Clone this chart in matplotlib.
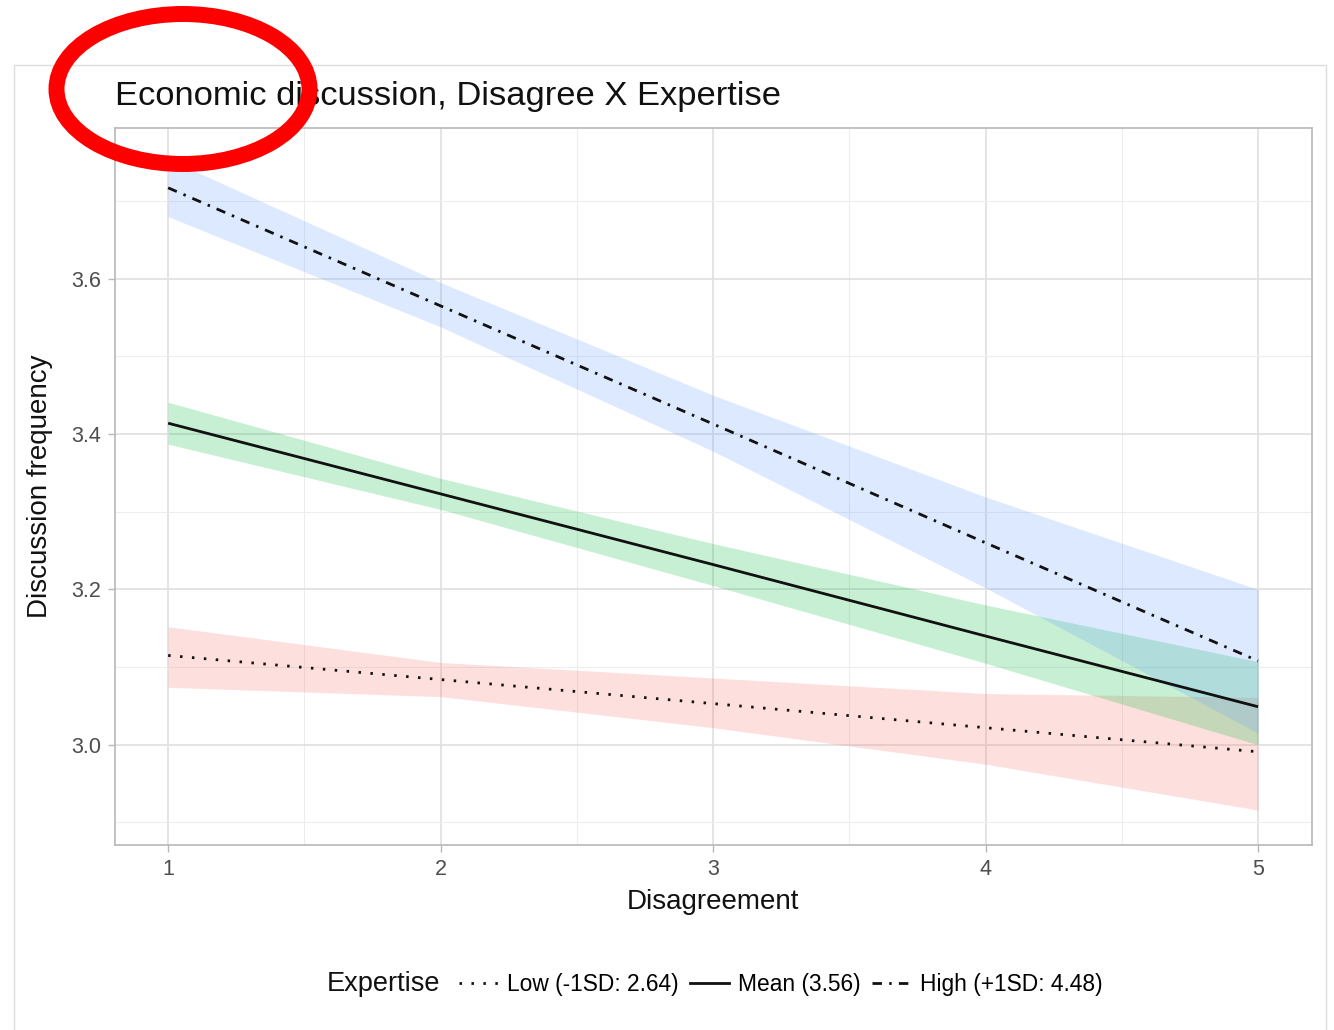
import numpy as np
import matplotlib
matplotlib.use("Agg")
import matplotlib.pyplot as plt
from matplotlib.lines import Line2D
from matplotlib.patches import Ellipse, Rectangle

plt.rcParams['font.family'] = ['Liberation Sans', 'DejaVu Sans']

# disagreement values where lines / bands were read
disagree = [1, 2, 3, 4, 5]

# Low expertise (-1SD: 2.64)
low_fit = [3.115, 3.084, 3.053, 3.022, 2.991]
low_lo = [3.074, 3.062, 3.022, 2.975, 2.916]
low_hi = [3.152, 3.106, 3.086, 3.066, 3.061]

# Mean expertise (3.56)
mean_fit = [3.414, 3.323, 3.232, 3.140, 3.049]
mean_lo = [3.387, 3.303, 3.205, 3.105, 3.000]
mean_hi = [3.441, 3.343, 3.259, 3.180, 3.107]

# High expertise (+1SD: 4.48)
high_fit = [3.717, 3.565, 3.413, 3.260, 3.108]
high_lo = [3.680, 3.538, 3.378, 3.202, 3.015]
high_hi = [3.754, 3.595, 3.450, 3.319, 3.200]

labels = ['Low (-1SD: 2.64)', 'Mean (3.56)', 'High (+1SD: 4.48)']
band_cols = ['#F8766D', '#00BA38', '#619CFF']
styles = [(0, (0.9, 3.4)), '-', (0, (3.4, 2.6, 0.9, 2.6))]

W, H = 1334, 1030
fig = plt.figure(figsize=(W / 100, H / 100), dpi=100)
ax = fig.add_axes([115 / W, 1 - 845 / H, (1312 - 115) / W, (845 - 128) / H])

series = [(low_fit, low_lo, low_hi), (mean_fit, mean_lo, mean_hi), (high_fit, high_lo, high_hi)]
for (fit, lo, hi), col in zip(series, band_cols):
    ax.fill_between(disagree, lo, hi, color=col, alpha=0.22, lw=0, zorder=2)
for (fit, lo, hi), ls in zip(series, styles):
    ax.plot(disagree, fit, color='#111111', lw=2.0, ls=ls, zorder=3,
            dash_capstyle='butt', solid_capstyle='butt')

ax.set_xlim(0.805, 5.198)
ax.set_ylim(2.871, 3.794)
ax.set_xticks([1, 2, 3, 4, 5])
ax.set_xticks([1.5, 2.5, 3.5, 4.5], minor=True)
ax.set_yticks([3.0, 3.2, 3.4, 3.6])
ax.set_yticks([2.9, 3.1, 3.3, 3.5, 3.7], minor=True)
ax.set_yticklabels(['3.0', '3.2', '3.4', '3.6'])
ax.grid(which='major', color='#E2E2E2', lw=1.3, zorder=0)
ax.grid(which='minor', color='#EDEDED', lw=0.8, zorder=0)
ax.set_axisbelow(True)
for s in ax.spines.values():
    s.set_color('#B8B8B8')
    s.set_linewidth(1.2)
ax.tick_params(which='major', length=5, width=1.0, color='#B8B8B8',
               labelsize=15.5, labelcolor='#4D4D4D', pad=5)
ax.tick_params(which='minor', length=0)

fig.text(115 / W, 1 - 105 / H, 'Economic discussion, Disagree X Expertise',
         fontsize=24.8, color='#111111', va='baseline', ha='left')
fig.text(713 / W, 1 - 902 / H, 'Disagreement', fontsize=20, color='#111111',
         ha='center', va='center')
fig.text(40 / W, 1 - 486 / H, 'Discussion frequency', fontsize=20, color='#111111',
         ha='center', va='center', rotation=90)

# legend: title on the left, keys in one row
fig.text(327 / W, 1 - 984 / H, 'Expertise', fontsize=19.5, color='#111111',
         ha='left', va='center')
handles = [Line2D([], [], color='#111111', lw=2.0, ls=ls, dash_capstyle='butt') for ls in styles]
fig.legend(handles, labels, loc='center left', bbox_to_anchor=(459 / W, 1 - 984 / H),
           ncol=3, frameon=False, fontsize=16.4, handlelength=1.7, handletextpad=0.4,
           columnspacing=0.5, borderpad=0, borderaxespad=0)

# outer plot frame
fig.patches.append(Rectangle((14 / W, -0.01), (1326 - 14) / W, 1 - 65 / H + 0.01,
                             transform=fig.transFigure, fill=False,
                             ec='#DDDDDD', lw=1.0, zorder=0))
# red highlight ellipse
fig.patches.append(Ellipse((183 / W, 1 - 89 / H), 253 / W, 150 / H,
                           transform=fig.transFigure, fill=False,
                           ec='#FF0000', lw=11.5, zorder=10))

fig.savefig('out.png', dpi=100)
